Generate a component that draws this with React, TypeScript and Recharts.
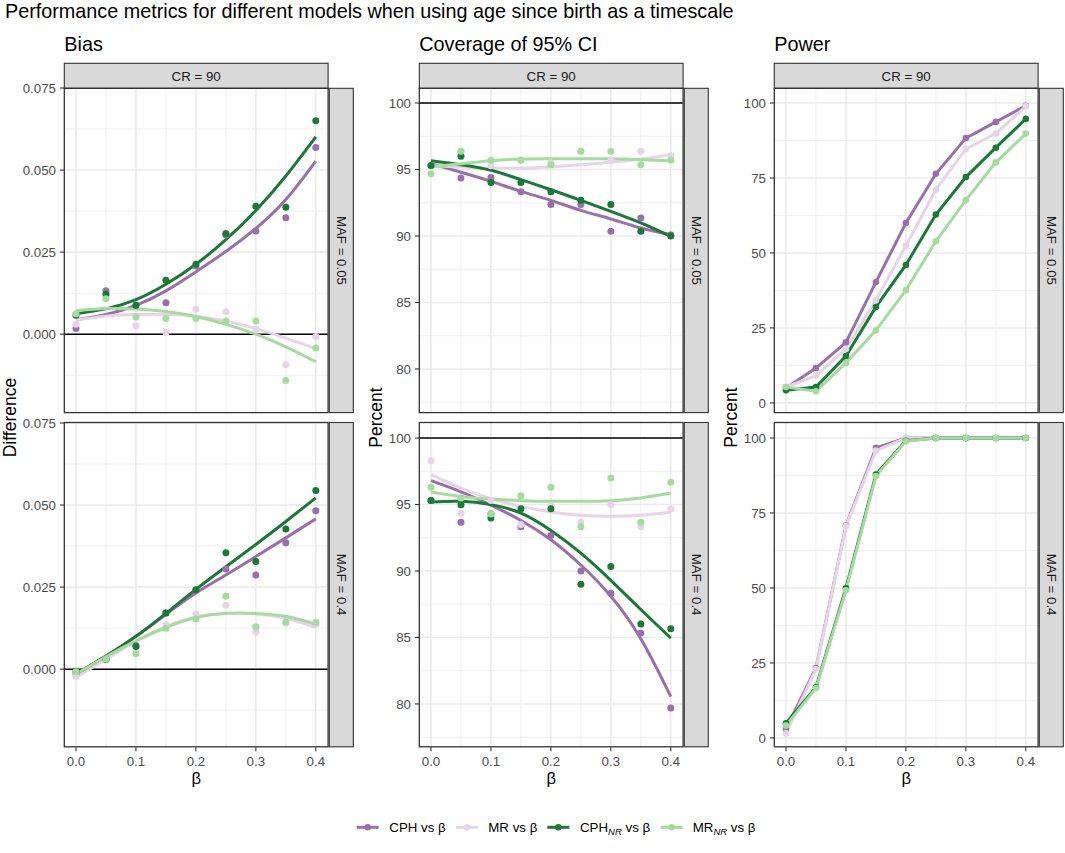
import React from 'react';
import { ComposedChart, Line, XAxis, YAxis, CartesianGrid, ReferenceLine } from 'recharts';

const FONT = '"Liberation Sans", Arial, Helvetica, sans-serif';

// ---------- categories / ticks ----------
const beta = [0, 0.05, 0.1, 0.15, 0.2, 0.25, 0.3, 0.35, 0.4];
const betaTicks = [0, 0.1, 0.2, 0.3, 0.4];
const betaMinor = [0.05, 0.15, 0.25, 0.35];

const biasTicks = [0, 0.025, 0.05, 0.075];
const biasMinor = [-0.0125, 0.0125, 0.0375, 0.0625];
const coverageTicks = [80, 85, 90, 95, 100];
const coverageMinor = [77.5, 82.5, 87.5, 92.5, 97.5];
const powerTicks = [0, 25, 50, 75, 100];
const powerMinor = [12.5, 37.5, 62.5, 87.5];

// ---------- Bias, MAF = 0.05 ----------
const biasLowCPH = [0.0017, 0.0132, 0.0088, 0.0096, 0.0208, 0.0302, 0.0314, 0.0355, 0.0569];
const biasLowMR = [0.003, 0.0113, 0.0025, 0.0005, 0.0076, 0.0068, 0.0015, -0.0093, -0.0007];
const biasLowCPHNR = [0.0058, 0.0122, 0.0088, 0.0164, 0.0213, 0.0307, 0.039, 0.0387, 0.065];
const biasLowMRNR = [0.0062, 0.0108, 0.0052, 0.0048, 0.0048, 0.004, 0.004, -0.0141, -0.0042];
const biasLowCPHFit = [0.0044, 0.006, 0.0088, 0.0132, 0.019, 0.0252, 0.0322, 0.041, 0.0527];
const biasLowMRFit = [0.0043, 0.0055, 0.006, 0.006, 0.0055, 0.004, 0.0017, -0.0012, -0.0044];
const biasLowCPHNRFit = [0.0062, 0.0077, 0.0105, 0.0152, 0.0213, 0.0288, 0.0377, 0.0482, 0.0601];
const biasLowMRNRFit = [0.0072, 0.0078, 0.0077, 0.0069, 0.0054, 0.003, 0.0, -0.0039, -0.0084];

// ---------- Bias, MAF = 0.4 ----------
const biasHighCPH = [-0.0015, 0.003, 0.0072, 0.0171, 0.024, 0.0305, 0.0287, 0.0385, 0.0483];
const biasHighMR = [-0.0022, 0.003, 0.005, 0.0135, 0.0168, 0.0195, 0.0114, 0.014, 0.0137];
const biasHighCPHNR = [-0.0006, 0.003, 0.0069, 0.0171, 0.0242, 0.0355, 0.0328, 0.0427, 0.0544];
const biasHighMRNR = [-0.0008, 0.0031, 0.0047, 0.0125, 0.0153, 0.0222, 0.0129, 0.0144, 0.0143];
const biasHighCPHFit = [-0.0015, 0.004, 0.01, 0.0167, 0.0232, 0.0287, 0.0343, 0.04, 0.0458];
const biasHighMRFit = [-0.0025, 0.003, 0.0085, 0.013, 0.016, 0.017, 0.0168, 0.0155, 0.0127];
const biasHighCPHNRFit = [-0.0015, 0.004, 0.01, 0.017, 0.0243, 0.0312, 0.038, 0.045, 0.0522];
const biasHighMRNRFit = [-0.0015, 0.0038, 0.0086, 0.0127, 0.0157, 0.017, 0.017, 0.0161, 0.0137];

// ---------- Coverage, MAF = 0.05 ----------
const covLowCPH = [95.3, 94.36, 94.4, 93.33, 92.36, 92.36, 90.35, 91.35, 90.1];
const covLowMR = [95.3, 96.37, 95.29, 95.7, 95.5, 96.37, 95.7, 96.37, 96.04];
const covLowCPHNR = [95.31, 95.99, 94.03, 94.03, 93.33, 92.68, 92.36, 90.35, 90.0];
const covLowMRNR = [94.69, 96.37, 95.69, 95.69, 95.36, 96.37, 96.37, 95.36, 95.69];
const covLowCPHFit = [95.44, 94.79, 94.11, 93.36, 92.68, 91.93, 91.28, 90.6, 90.1];
const covLowMRFit = [95.29, 95.19, 95.11, 95.11, 95.19, 95.36, 95.54, 95.79, 96.12];
const covLowCPHNRFit = [95.66, 95.36, 94.94, 94.24, 93.48, 92.68, 91.85, 90.98, 89.97];
const covLowMRNRFit = [95.19, 95.44, 95.66, 95.79, 95.81, 95.81, 95.81, 95.74, 95.66];

// ---------- Coverage, MAF = 0.4 ----------
const covHighCPH = [95.3, 93.66, 94.3, 93.33, 92.66, 90.0, 88.32, 85.34, 79.7];
const covHighMR = [98.3, 94.34, 95.31, 93.5, 94.9, 93.66, 94.99, 93.33, 94.66];
const covHighCPHNR = [95.31, 94.99, 93.98, 94.69, 94.69, 89.0, 90.33, 86.01, 85.66];
const covHighMRNR = [96.29, 95.49, 94.29, 95.66, 96.29, 93.33, 96.99, 93.66, 96.67];
const covHighCPHFit = [96.79, 95.95, 94.95, 93.8, 92.35, 90.45, 88.1, 84.9, 80.55];
const covHighMRFit = [97.24, 96.24, 95.44, 94.86, 94.44, 94.19, 94.11, 94.19, 94.41];
const covHighCPHNRFit = [95.19, 95.24, 94.99, 94.35, 93.05, 91.35, 89.3, 87.1, 84.95];
const covHighMRNRFit = [95.94, 95.61, 95.41, 95.29, 95.24, 95.24, 95.29, 95.49, 95.86];

// ---------- Power, MAF = 0.05 ----------
const powLowCPH = [5.0, 11.6, 20.2, 40.3, 60.0, 76.4, 88.3, 93.7, 99.1];
const powLowMR = [5.3, 9.1, 18.0, 34.2, 52.4, 71.1, 84.7, 89.8, 98.9];
const powLowCPHNR = [4.2, 5.3, 15.6, 32.0, 46.0, 62.8, 75.3, 85.1, 94.7];
const powLowMRNR = [5.3, 3.9, 13.3, 24.2, 37.6, 53.9, 67.6, 80.2, 89.8];

// ---------- Power, MAF = 0.4 ----------
const powHighCPH = [3.0, 23.3, 70.8, 96.7, 100, 100, 100, 100, 100];
const powHighMR = [1.5, 23.0, 70.6, 95.8, 100, 100, 100, 100, 100];
const powHighCPHNR = [4.9, 16.9, 49.9, 87.8, 99.1, 100, 100, 100, 100];
const powHighMRNR = [4.1, 16.6, 49.2, 87.3, 98.9, 100, 100, 100, 100];

// ---------- styling ----------
const COLORS: Record<string, string> = {
  cph: '#9970AB',
  mr: '#E7D4E8',
  cphNR: '#1B7837',
  mrNR: '#A6DBA0',
};
const KEYS = ['cph', 'mr', 'cphNR', 'mrNR'];

const COL_LEFT = [64.3, 419.3, 774.3];
const ROW_TOP = [88.3, 422.5];
const PW = 263.8;
const PH = 324.3;
const YAW = 60;
const XAH = 34;
const TOPM = 12;

function buildRows(pts: number[][], fits?: number[][]) {
  return beta.map((b, i) => {
    const r: Record<string, number> = { beta: b };
    KEYS.forEach((k, j) => {
      r[k] = pts[j][i];
      if (fits) r[k + 'Fit'] = fits[j][i];
    });
    return r;
  });
}

const biasLowRows = buildRows(
  [biasLowCPH, biasLowMR, biasLowCPHNR, biasLowMRNR],
  [biasLowCPHFit, biasLowMRFit, biasLowCPHNRFit, biasLowMRNRFit]
);
const biasHighRows = buildRows(
  [biasHighCPH, biasHighMR, biasHighCPHNR, biasHighMRNR],
  [biasHighCPHFit, biasHighMRFit, biasHighCPHNRFit, biasHighMRNRFit]
);
const covLowRows = buildRows(
  [covLowCPH, covLowMR, covLowCPHNR, covLowMRNR],
  [covLowCPHFit, covLowMRFit, covLowCPHNRFit, covLowMRNRFit]
);
const covHighRows = buildRows(
  [covHighCPH, covHighMR, covHighCPHNR, covHighMRNR],
  [covHighCPHFit, covHighMRFit, covHighCPHNRFit, covHighMRNRFit]
);
const powLowRows = buildRows([powLowCPH, powLowMR, powLowCPHNR, powLowMRNR]);
const powHighRows = buildRows([powHighCPH, powHighMR, powHighCPHNR, powHighMRNR]);

const tickStyle = { fontSize: 13.3, fill: '#4D4D4D', fontFamily: FONT };

type PanelProps = {
  rows: Record<string, number>[];
  col: number;
  row: number;
  domain: [number, number];
  ticks: number[];
  minor: number[];
  fmt: (v: number) => string;
  refY?: number;
  mode: 'smooth' | 'line';
};

function Panel({ rows, col, row, domain, ticks, minor, fmt, refY, mode }: PanelProps) {
  const showX = row === 1;
  const h = TOPM + PH + (showX ? XAH : 0);
  const pointLayers = KEYS.map((k) => (
    <Line
      key={'p' + k}
      dataKey={k}
      stroke="none"
      isAnimationActive={false}
      dot={{ r: mode === 'smooth' ? 3.5 : 3.3, fill: COLORS[k], stroke: 'none', fillOpacity: 1 }}
      activeDot={false}
    />
  ));
  const lineLayers = KEYS.map((k) => (
    <Line
      key={'l' + k}
      dataKey={mode === 'smooth' ? k + 'Fit' : k}
      type={mode === 'smooth' ? 'natural' : 'linear'}
      stroke={COLORS[k]}
      strokeWidth={3}
      dot={false}
      activeDot={false}
      isAnimationActive={false}
    />
  ));
  return (
    <div style={{ position: 'absolute', left: COL_LEFT[col] - YAW, top: ROW_TOP[row] - TOPM }}>
      <ComposedChart
        width={PW + YAW}
        height={h}
        data={rows}
        margin={{ top: TOPM, right: 0, bottom: 0, left: 0 }}
      >
        <CartesianGrid
          horizontalValues={minor}
          verticalValues={betaMinor}
          stroke="#EBEBEB"
          strokeWidth={0.8}
        />
        <CartesianGrid
          horizontalValues={ticks}
          verticalValues={betaTicks}
          stroke="#EBEBEB"
          strokeWidth={1.6}
        />
        <XAxis
          dataKey="beta"
          type="number"
          domain={[-0.02, 0.42]}
          ticks={betaTicks}
          allowDataOverflow
          hide={!showX}
          height={XAH}
          tickFormatter={(v: number) => v.toFixed(1)}
          tick={tickStyle}
          tickSize={4}
          tickMargin={5}
          axisLine={false}
          tickLine={{ stroke: '#333333', strokeWidth: 1.1 }}
          interval={0}
        />
        <YAxis
          type="number"
          domain={domain}
          ticks={ticks}
          allowDataOverflow
          width={YAW}
          tickFormatter={fmt}
          tick={tickStyle}
          tickSize={4}
          tickMargin={4}
          axisLine={false}
          tickLine={{ stroke: '#333333', strokeWidth: 1.1 }}
          interval={0}
        />
        {refY !== undefined && (
          <ReferenceLine y={refY} stroke="#000000" strokeWidth={1.6} />
        )}
        {mode === 'smooth' ? pointLayers : lineLayers}
        {mode === 'smooth' ? lineLayers : pointLayers}
      </ComposedChart>
    </div>
  );
}

const colTitles = ['Bias', 'Coverage of 95% CI', 'Power'];
const rowLabels = ['MAF = 0.05', 'MAF = 0.4'];
const stripLabel = 'CR = 90';
const yTitles = [
  { text: 'Difference', x: 16 },
  { text: 'Percent', x: 382 },
  { text: 'Percent', x: 737 },
];
const legendItems = [
  { key: 'cph', label: 'CPH', sub: '', x1: 356.7, tx: 389.3 },
  { key: 'mr', label: 'MR', sub: '', x1: 456, tx: 488.3 },
  { key: 'cphNR', label: 'CPH', sub: 'NR', x1: 547.3, tx: 580 },
  { key: 'mrNR', label: 'MR', sub: 'NR', x1: 660.7, tx: 692.7 },
];

function Overlay() {
  const stripH = 25;
  return (
    <svg
      width={1065}
      height={853}
      style={{ position: 'absolute', left: 0, top: 0, pointerEvents: 'none' }}
      fontFamily={FONT}
    >
      <text x={5} y={17.5} fontSize={19.8} fill="#000">
        Performance metrics for different models when using age since birth as a timescale
      </text>
      {colTitles.map((t, c) => (
        <text key={t} x={COL_LEFT[c]} y={51} fontSize={19.8} fill="#000">
          {t}
        </text>
      ))}
      {COL_LEFT.map((l, c) => (
        <g key={'col' + c}>
          <rect x={l} y={ROW_TOP[0] - stripH} width={PW} height={stripH} fill="#D9D9D9" stroke="#333333" strokeWidth={1.1} />
          <text x={l + PW / 2} y={ROW_TOP[0] - stripH / 2 + 4.7} fontSize={13.3} fill="#1A1A1A" textAnchor="middle">
            {stripLabel}
          </text>
          {ROW_TOP.map((t, r) => (
            <g key={'r' + r}>
              <rect x={l} y={t} width={PW} height={PH} fill="none" stroke="#333333" strokeWidth={1.3} />
              <rect x={l + PW + 1.2} y={t} width={24} height={PH} fill="#D9D9D9" stroke="#333333" strokeWidth={1.1} />
              <text
                transform={`translate(${l + PW + 1.2 + 12 - 4.7},${t + PH / 2}) rotate(90)`}
                fontSize={13.3}
                fill="#1A1A1A"
                textAnchor="middle"
              >
                {rowLabels[r]}
              </text>
            </g>
          ))}
          <text x={l + PW / 2} y={783.5} fontSize={16.6} fill="#000" textAnchor="middle">
            β
          </text>
          <text
            transform={`translate(${yTitles[c].x},${(ROW_TOP[0] + ROW_TOP[1] + PH) / 2}) rotate(-90)`}
            fontSize={17.5}
            fill="#000"
            textAnchor="middle"
          >
            {yTitles[c].text}
          </text>
        </g>
      ))}
      {legendItems.map((it) => (
        <g key={it.key + it.sub}>
          <line x1={it.x1} x2={it.x1 + 22} y1={827.3} y2={827.3} stroke={COLORS[it.key]} strokeWidth={3} />
          <circle cx={it.x1 + 11} cy={827.3} r={3.2} fill={COLORS[it.key]} />
          <text x={it.tx} y={832} fontSize={13.3} fill="#000">
            {it.label}
            {it.sub ? (
              <tspan fontSize={9.5} fontStyle="italic" dy={3}>
                {it.sub}
              </tspan>
            ) : null}
            <tspan dy={it.sub ? -3 : 0}>{' vs β'}</tspan>
          </text>
        </g>
      ))}
    </svg>
  );
}

export default function App() {
  const fmt3 = (v: number) => v.toFixed(3);
  const fmt0 = (v: number) => String(v);
  return (
    <div
      style={{
        position: 'absolute',
        left: 0,
        top: 0,
        width: 1065,
        height: 853,
        background: '#FFFFFF',
        fontFamily: FONT,
      }}
    >
      <Panel rows={biasLowRows} col={0} row={0} domain={[-0.0238, 0.075]} ticks={biasTicks} minor={biasMinor} fmt={fmt3} refY={0} mode="smooth" />
      <Panel rows={biasHighRows} col={0} row={1} domain={[-0.0238, 0.075]} ticks={biasTicks} minor={biasMinor} fmt={fmt3} refY={0} mode="smooth" />
      <Panel rows={covLowRows} col={1} row={0} domain={[76.74, 101.13]} ticks={coverageTicks} minor={coverageMinor} fmt={fmt0} refY={100} mode="smooth" />
      <Panel rows={covHighRows} col={1} row={1} domain={[76.74, 101.13]} ticks={coverageTicks} minor={coverageMinor} fmt={fmt0} refY={100} mode="smooth" />
      <Panel rows={powLowRows} col={2} row={0} domain={[-3.13, 105]} ticks={powerTicks} minor={powerMinor} fmt={fmt0} mode="line" />
      <Panel rows={powHighRows} col={2} row={1} domain={[-3.13, 105]} ticks={powerTicks} minor={powerMinor} fmt={fmt0} mode="line" />
      <Overlay />
    </div>
  );
}
